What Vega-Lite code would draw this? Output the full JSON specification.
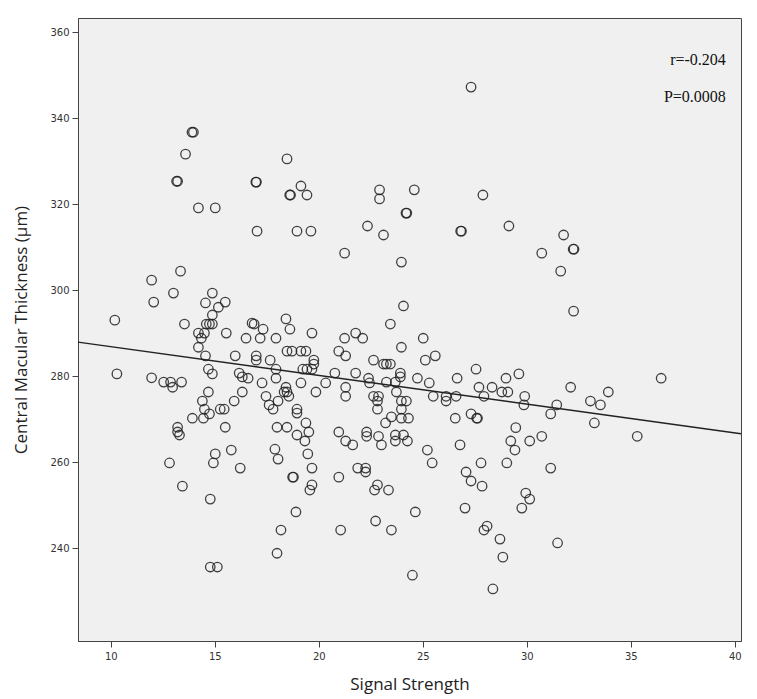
{
"$schema": "https://vega.github.io/schema/vega-lite/v6.json",
"autosize": {"type": "none"},
"width": 663, "height": 623,
"padding": {"left": 78, "top": 18, "right": 16, "bottom": 58},
"background": "#ffffff",
"config": {"view": {"fill": "#F0F0F0", "stroke": "#444444", "strokeWidth": 1}},
"datasets": {
"pts": [
{"signal":13.90,"thickness":336.7},{"signal":13.97,"thickness":336.7},{"signal":13.59,"thickness":331.6},{"signal":13.16,"thickness":325.3},{"signal":13.21,"thickness":325.3},{"signal":14.21,"thickness":319.1},{"signal":15.02,"thickness":319.1},{"signal":16.97,"thickness":325.1},{"signal":17.00,"thickness":325.1},{"signal":18.47,"thickness":330.5},{"signal":19.14,"thickness":324.2},{"signal":18.60,"thickness":322.1},{"signal":18.64,"thickness":322.1},{"signal":19.43,"thickness":322.1},{"signal":22.92,"thickness":323.3},{"signal":22.92,"thickness":321.2},{"signal":24.19,"thickness":317.9},{"signal":24.23,"thickness":317.9},{"signal":17.03,"thickness":313.7},{"signal":18.95,"thickness":313.7},{"signal":19.62,"thickness":313.7},{"signal":22.34,"thickness":314.9},{"signal":23.11,"thickness":312.8},{"signal":21.24,"thickness":308.6},{"signal":23.97,"thickness":306.5},{"signal":27.32,"thickness":347.2},{"signal":24.59,"thickness":323.3},{"signal":27.89,"thickness":322.1},{"signal":26.82,"thickness":313.7},{"signal":26.86,"thickness":313.7},{"signal":29.14,"thickness":314.9},{"signal":31.77,"thickness":312.8},{"signal":32.23,"thickness":309.5},{"signal":32.27,"thickness":309.5},{"signal":30.72,"thickness":308.6},{"signal":31.63,"thickness":304.4},{"signal":13.35,"thickness":304.4},{"signal":11.96,"thickness":302.3},
{"signal":10.19,"thickness":293.0},{"signal":10.29,"thickness":280.5},{"signal":12.06,"thickness":297.2},{"signal":13.01,"thickness":299.3},{"signal":11.96,"thickness":279.6},{"signal":13.54,"thickness":292.1},{"signal":12.54,"thickness":278.6},{"signal":12.87,"thickness":278.6},{"signal":13.40,"thickness":278.6},{"signal":12.97,"thickness":277.4},{"signal":14.21,"thickness":286.7},{"signal":14.21,"thickness":290.0},{"signal":14.35,"thickness":288.8},{"signal":14.50,"thickness":290.0},{"signal":14.59,"thickness":292.1},{"signal":14.74,"thickness":292.1},{"signal":14.88,"thickness":292.1},{"signal":14.55,"thickness":297.0},{"signal":14.88,"thickness":299.3},{"signal":14.88,"thickness":294.2},{"signal":15.17,"thickness":296.0},{"signal":15.50,"thickness":297.2},{"signal":15.55,"thickness":290.0},{"signal":14.55,"thickness":284.7},{"signal":14.69,"thickness":281.6},{"signal":14.88,"thickness":280.5},{"signal":15.98,"thickness":284.7},{"signal":16.50,"thickness":288.8},{"signal":14.69,"thickness":276.3},{"signal":14.40,"thickness":274.2},{"signal":15.93,"thickness":274.2},{"signal":16.32,"thickness":276.3},{"signal":14.50,"thickness":272.3},{"signal":14.74,"thickness":271.2},{"signal":15.26,"thickness":272.3},{"signal":15.45,"thickness":272.3},{"signal":13.92,"thickness":270.2},{"signal":14.45,"thickness":270.2},{"signal":15.50,"thickness":268.1},{"signal":13.21,"thickness":268.1},{"signal":13.21,"thickness":267.0},{"signal":13.30,"thickness":266.3},
{"signal":12.82,"thickness":259.8},{"signal":13.44,"thickness":254.4},{"signal":14.78,"thickness":251.4},{"signal":14.93,"thickness":259.8},{"signal":15.02,"thickness":261.9},{"signal":15.79,"thickness":262.8},{"signal":16.22,"thickness":258.6},{"signal":14.78,"thickness":235.6},{"signal":15.12,"thickness":235.6},
{"signal":24.07,"thickness":296.3},{"signal":23.44,"thickness":292.1},{"signal":23.97,"thickness":286.7},{"signal":16.79,"thickness":292.3},{"signal":16.89,"thickness":292.1},{"signal":17.32,"thickness":290.9},{"signal":18.42,"thickness":293.3},{"signal":18.61,"thickness":290.9},{"signal":19.67,"thickness":290.0},{"signal":17.18,"thickness":288.8},{"signal":17.94,"thickness":288.8},{"signal":18.47,"thickness":285.8},{"signal":18.71,"thickness":285.8},{"signal":19.14,"thickness":285.8},{"signal":19.38,"thickness":285.8},{"signal":16.99,"thickness":284.7},{"signal":16.99,"thickness":283.7},{"signal":17.66,"thickness":283.7},{"signal":19.76,"thickness":283.7},{"signal":19.76,"thickness":282.8},{"signal":19.23,"thickness":281.6},{"signal":19.43,"thickness":281.6},{"signal":19.67,"thickness":281.6},{"signal":17.94,"thickness":281.6},{"signal":20.96,"thickness":285.8},{"signal":21.29,"thickness":284.7},{"signal":21.24,"thickness":288.8},{"signal":21.77,"thickness":290.0},{"signal":22.11,"thickness":288.8},{"signal":22.63,"thickness":283.7},{"signal":23.11,"thickness":282.8},{"signal":23.25,"thickness":282.8},{"signal":23.44,"thickness":282.8},{"signal":23.92,"thickness":280.7},{"signal":23.92,"thickness":279.8},{"signal":23.25,"thickness":278.6},{"signal":23.68,"thickness":278.6},{"signal":16.17,"thickness":280.7},{"signal":16.32,"thickness":279.8},{"signal":16.60,"thickness":279.5},{"signal":17.94,"thickness":279.5},{"signal":19.14,"thickness":278.4},{"signal":20.33,"thickness":278.4},{"signal":20.77,"thickness":280.7},{"signal":21.77,"thickness":280.7},{"signal":22.39,"thickness":279.5},{"signal":22.44,"thickness":278.4},{"signal":17.27,"thickness":278.4},{"signal":18.42,"thickness":277.4},{"signal":18.47,"thickness":276.3},{"signal":18.33,"thickness":276.3},{"signal":19.86,"thickness":276.3},{"signal":21.29,"thickness":277.4},{"signal":21.29,"thickness":275.3},{"signal":17.46,"thickness":275.3},{"signal":18.56,"thickness":275.3},{"signal":17.61,"thickness":273.3},{"signal":17.80,"thickness":272.3},{"signal":18.04,"thickness":274.2},{"signal":18.95,"thickness":272.3},{"signal":18.95,"thickness":271.4},{"signal":22.63,"thickness":275.3},{"signal":22.87,"thickness":275.3},{"signal":22.82,"thickness":274.2},{"signal":22.82,"thickness":272.3},{"signal":23.73,"thickness":276.3},{"signal":23.97,"thickness":274.2},{"signal":23.97,"thickness":272.3},{"signal":23.97,"thickness":270.2},{"signal":23.21,"thickness":269.1},{"signal":23.49,"thickness":270.5},{"signal":19.38,"thickness":269.1},{"signal":17.99,"thickness":268.1},{"signal":18.47,"thickness":268.1},{"signal":19.52,"thickness":267.0},{"signal":18.95,"thickness":266.3},{"signal":20.96,"thickness":267.0},{"signal":22.30,"thickness":267.0},{"signal":22.30,"thickness":266.0},{"signal":22.87,"thickness":266.0},{"signal":23.68,"thickness":266.3},{"signal":24.07,"thickness":266.3},
{"signal":19.33,"thickness":264.9},{"signal":21.29,"thickness":264.9},{"signal":21.63,"thickness":264.0},{"signal":23.01,"thickness":264.0},{"signal":23.68,"thickness":264.9},{"signal":24.26,"thickness":264.9},{"signal":17.89,"thickness":263.0},{"signal":18.04,"thickness":260.7},{"signal":19.47,"thickness":261.9},{"signal":19.67,"thickness":258.6},{"signal":18.74,"thickness":256.5},{"signal":18.78,"thickness":256.5},{"signal":19.67,"thickness":254.7},{"signal":19.57,"thickness":253.5},{"signal":20.96,"thickness":256.5},{"signal":21.87,"thickness":258.6},{"signal":22.25,"thickness":258.6},{"signal":22.25,"thickness":257.7},{"signal":22.82,"thickness":254.7},{"signal":22.68,"thickness":253.5},{"signal":23.35,"thickness":253.5},{"signal":18.90,"thickness":248.4},{"signal":18.18,"thickness":244.2},{"signal":21.05,"thickness":244.2},{"signal":22.73,"thickness":246.3},{"signal":23.49,"thickness":244.2},{"signal":17.99,"thickness":238.8},
{"signal":25.22,"thickness":262.8},{"signal":25.45,"thickness":259.8},{"signal":26.79,"thickness":264.0},{"signal":27.80,"thickness":259.8},{"signal":27.08,"thickness":257.7},{"signal":27.32,"thickness":255.6},{"signal":27.85,"thickness":254.4},{"signal":29.04,"thickness":259.8},{"signal":29.23,"thickness":264.9},{"signal":29.43,"thickness":262.8},{"signal":30.14,"thickness":264.9},{"signal":30.72,"thickness":266.0},{"signal":29.47,"thickness":268.0},{"signal":31.15,"thickness":258.6},{"signal":29.95,"thickness":252.8},{"signal":30.14,"thickness":251.4},{"signal":29.76,"thickness":249.3},{"signal":24.64,"thickness":248.4},{"signal":27.03,"thickness":249.3},{"signal":28.09,"thickness":245.1},{"signal":27.94,"thickness":244.2},{"signal":28.71,"thickness":242.1},{"signal":28.85,"thickness":237.9},{"signal":31.48,"thickness":241.2},{"signal":24.50,"thickness":233.7},{"signal":28.37,"thickness":230.5},
{"signal":32.25,"thickness":295.1},{"signal":25.02,"thickness":288.8},{"signal":25.12,"thickness":283.7},{"signal":25.60,"thickness":284.7},{"signal":24.74,"thickness":279.5},{"signal":25.31,"thickness":278.4},{"signal":26.65,"thickness":279.5},{"signal":27.56,"thickness":281.6},{"signal":29.00,"thickness":279.5},{"signal":29.62,"thickness":280.5},{"signal":27.70,"thickness":277.4},{"signal":27.94,"thickness":275.3},{"signal":28.33,"thickness":277.4},{"signal":28.80,"thickness":276.3},{"signal":29.09,"thickness":276.3},{"signal":29.90,"thickness":275.3},{"signal":29.86,"thickness":273.3},{"signal":32.11,"thickness":277.4},{"signal":31.44,"thickness":273.3},{"signal":31.15,"thickness":271.2},{"signal":25.50,"thickness":275.3},{"signal":26.12,"thickness":275.3},{"signal":26.12,"thickness":274.2},{"signal":26.60,"thickness":275.3},{"signal":24.21,"thickness":274.2},{"signal":24.31,"thickness":270.2},{"signal":26.56,"thickness":270.2},{"signal":27.32,"thickness":271.2},{"signal":27.59,"thickness":270.2},{"signal":27.63,"thickness":270.2},
{"signal":36.46,"thickness":279.5},{"signal":33.92,"thickness":276.3},{"signal":33.06,"thickness":274.2},{"signal":33.54,"thickness":273.3},{"signal":33.25,"thickness":269.1},{"signal":35.31,"thickness":266.0}
],
"fit": [{"signal":8.42,"thickness":287.9},{"signal":40.3,"thickness":266.6}],
"notes": [{"label":"r=-0.204","signal":39.57,"thickness":353.5},{"label":"P=0.0008","signal":39.57,"thickness":344.9}]
},
"encoding": {
"x": {"field":"signal","type":"quantitative","scale":{"domain":[8.42,40.3],"nice":false,"zero":false},
 "axis":{"title":"Signal Strength","values":[10,15,20,25,30,35,40],"grid":false,"domainColor":"#444444","tickColor":"#444444","tickSize":6,"labelFont":"DejaVu Sans","labelFontSize":10,"labelColor":"#333333","labelPadding":4,"titleFont":"Open Sans","titleFontSize":17,"titleFontWeight":"normal","titleColor":"#222222","titlePadding":15}},
"y": {"field":"thickness","type":"quantitative","scale":{"domain":[218.4,363.26],"nice":false,"zero":false},
 "axis":{"title":"Central Macular Thickness (µm)","values":[240,260,280,300,320,340,360],"grid":false,"domainColor":"#444444","tickColor":"#444444","tickSize":6,"labelFont":"DejaVu Sans","labelFontSize":10,"labelColor":"#333333","labelPadding":3,"titleFont":"Open Sans","titleFontSize":17,"titleFontWeight":"normal","titleColor":"#222222","titlePadding":19}}
},
"layer": [
{"data":{"name":"pts"},"mark":{"type":"point","shape":"circle","filled":false,"size":90,"stroke":"#222222","strokeWidth":1.3,"opacity":0.85}},
{"data":{"name":"fit"},"mark":{"type":"line","color":"#222222","strokeWidth":1.4}},
{"data":{"name":"notes"},"mark":{"type":"text","align":"right","baseline":"middle","font":"Liberation Serif","fontSize":16,"color":"#111111"},"encoding":{"text":{"field":"label"}}}
]
}
